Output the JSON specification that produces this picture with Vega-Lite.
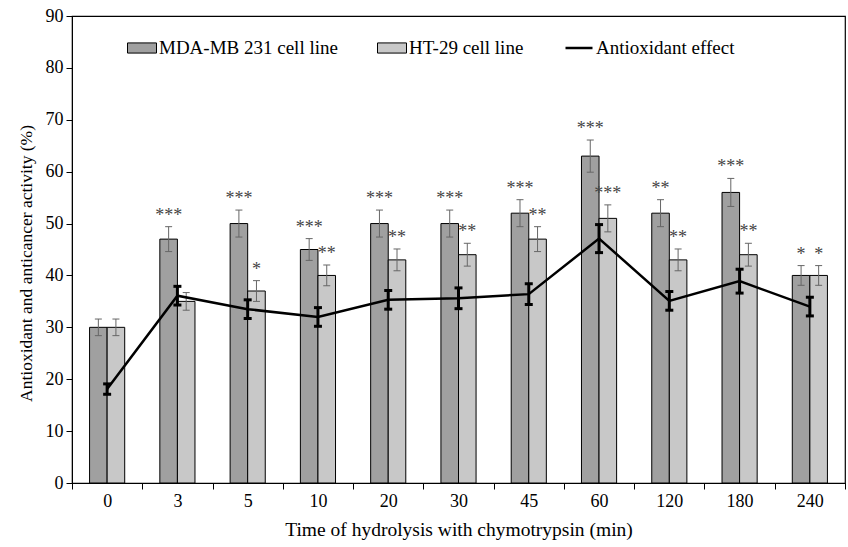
{
  "$schema": "https://vega.github.io/schema/vega-lite/v6.json",
  "width": 773,
  "height": 467,
  "autosize": {"type": "none"},
  "padding": {"left": 72, "top": 16, "right": 3, "bottom": 64},
  "background": "white",
  "config": {
    "font": "Liberation Serif",
    "view": {"stroke": "black", "strokeWidth": 1.2},
    "axis": {
      "labelFont": "Liberation Serif",
      "titleFont": "Liberation Serif",
      "labelFontSize": 18,
      "titleFontSize": 18,
      "titleFontWeight": "normal",
      "labelColor": "black",
      "titleColor": "black",
      "domainColor": "black",
      "tickColor": "black",
      "grid": false
    },
    "legend": {
      "labelFont": "Liberation Serif",
      "labelFontSize": 19,
      "labelColor": "black",
      "labelLimit": 400,
      "labelOffset": 2,
      "padding": 0
    }
  },
  "datasets": {
    "bars": [
      {"time": "0", "series": "MDA-MB 231 cell line", "value": 30, "lo": 28.4, "hi": 31.6, "sig": ""},
      {"time": "0", "series": "HT-29 cell line", "value": 30, "lo": 28.4, "hi": 31.6, "sig": ""},
      {"time": "3", "series": "MDA-MB 231 cell line", "value": 47, "lo": 44.6, "hi": 49.4, "sig": "***"},
      {"time": "3", "series": "HT-29 cell line", "value": 35, "lo": 33.3, "hi": 36.7, "sig": ""},
      {"time": "5", "series": "MDA-MB 231 cell line", "value": 50, "lo": 47.4, "hi": 52.6, "sig": "***"},
      {"time": "5", "series": "HT-29 cell line", "value": 37, "lo": 35, "hi": 39, "sig": "*"},
      {"time": "10", "series": "MDA-MB 231 cell line", "value": 45, "lo": 42.9, "hi": 47.1, "sig": "***"},
      {"time": "10", "series": "HT-29 cell line", "value": 40, "lo": 38, "hi": 42, "sig": "**"},
      {"time": "20", "series": "MDA-MB 231 cell line", "value": 50, "lo": 47.4, "hi": 52.6, "sig": "***"},
      {"time": "20", "series": "HT-29 cell line", "value": 43, "lo": 40.9, "hi": 45.1, "sig": "**"},
      {"time": "30", "series": "MDA-MB 231 cell line", "value": 50, "lo": 47.4, "hi": 52.6, "sig": "***"},
      {"time": "30", "series": "HT-29 cell line", "value": 44, "lo": 41.8, "hi": 46.2, "sig": "**"},
      {"time": "45", "series": "MDA-MB 231 cell line", "value": 52, "lo": 49.4, "hi": 54.6, "sig": "***"},
      {"time": "45", "series": "HT-29 cell line", "value": 47, "lo": 44.6, "hi": 49.4, "sig": "**"},
      {"time": "60", "series": "MDA-MB 231 cell line", "value": 63, "lo": 59.9, "hi": 66.1, "sig": "***"},
      {"time": "60", "series": "HT-29 cell line", "value": 51, "lo": 48.4, "hi": 53.6, "sig": "***"},
      {"time": "120", "series": "MDA-MB 231 cell line", "value": 52, "lo": 49.4, "hi": 54.6, "sig": "**"},
      {"time": "120", "series": "HT-29 cell line", "value": 43, "lo": 40.9, "hi": 45.1, "sig": "**"},
      {"time": "180", "series": "MDA-MB 231 cell line", "value": 56, "lo": 53.3, "hi": 58.7, "sig": "***"},
      {"time": "180", "series": "HT-29 cell line", "value": 44, "lo": 41.8, "hi": 46.2, "sig": "**"},
      {"time": "240", "series": "MDA-MB 231 cell line", "value": 40, "lo": 38.1, "hi": 41.9, "sig": "*"},
      {"time": "240", "series": "HT-29 cell line", "value": 40, "lo": 38.1, "hi": 41.9, "sig": "*"}
    ],
    "anti": [
      {"time": "0", "value": 18.1, "lo": 17.1, "hi": 19.1},
      {"time": "3", "value": 36.1, "lo": 34.3, "hi": 37.9},
      {"time": "5", "value": 33.5, "lo": 31.7, "hi": 35.3},
      {"time": "10", "value": 32.0, "lo": 30.2, "hi": 33.8},
      {"time": "20", "value": 35.3, "lo": 33.5, "hi": 37.1},
      {"time": "30", "value": 35.6, "lo": 33.6, "hi": 37.6},
      {"time": "45", "value": 36.4, "lo": 34.4, "hi": 38.4},
      {"time": "60", "value": 47.1, "lo": 44.4, "hi": 49.8},
      {"time": "120", "value": 35.1, "lo": 33.3, "hi": 36.9},
      {"time": "180", "value": 38.9, "lo": 36.6, "hi": 41.2},
      {"time": "240", "value": 34.0, "lo": 32.2, "hi": 35.8}
    ]
  },
  "encoding": {
    "x": {
      "field": "time",
      "type": "nominal",
      "sort": ["0", "3", "5", "10", "20", "30", "45", "60", "120", "180", "240"],
      "scale": {"paddingInner": 0, "paddingOuter": 0},
      "axis": {
        "title": "Time of hydrolysis with chymotrypsin (min)",
        "titleFontSize": 19.5,
        "labelAngle": 0,
        "tickBand": "extent",
        "tickSize": 6,
        "labelPadding": 3,
        "titlePadding": 10
      }
    }
  },
  "layer": [
    {
      "data": {"name": "bars"},
      "mark": {"type": "bar", "stroke": "black", "strokeWidth": 1},
      "encoding": {
        "xOffset": {
          "field": "series",
          "type": "nominal",
          "sort": ["MDA-MB 231 cell line", "HT-29 cell line"],
          "scale": {"paddingInner": 0, "paddingOuter": 1}
        },
        "y": {
          "field": "value",
          "type": "quantitative",
          "scale": {"domain": [0, 90], "nice": false},
          "axis": {
            "title": "Antioxidant and anticancer activity (%)",
            "titleFontSize": 17.5,
            "values": [0, 10, 20, 30, 40, 50, 60, 70, 80, 90],
            "tickSize": 6,
            "labelPadding": 3,
            "titlePadding": 10,
            "titleY": 247
          }
        },
        "fill": {
          "field": "series",
          "type": "nominal",
          "scale": {
            "domain": ["MDA-MB 231 cell line", "HT-29 cell line"],
            "range": ["#a0a0a0", "#c8c8c8"]
          },
          "legend": {
            "title": null,
            "orient": "none",
            "legendX": 55,
            "legendY": 17,
            "direction": "horizontal",
            "columnPadding": 37,
            "symbolSize": 841,
            "symbolType": "M-1,-0.35H1V0.35H-1Z",
            "symbolStrokeColor": "black",
            "symbolStrokeWidth": 1
          }
        }
      }
    },
    {
      "data": {"name": "bars"},
      "mark": {"type": "rule", "color": "#666666", "strokeWidth": 1},
      "encoding": {
        "xOffset": {"field": "series", "type": "nominal", "sort": ["MDA-MB 231 cell line", "HT-29 cell line"]},
        "y": {"field": "lo", "type": "quantitative"},
        "y2": {"field": "hi"}
      }
    },
    {
      "data": {"name": "bars"},
      "mark": {"type": "tick", "orient": "horizontal", "size": 7, "thickness": 1, "color": "#666666", "opacity": 1},
      "encoding": {
        "xOffset": {"field": "series", "type": "nominal", "sort": ["MDA-MB 231 cell line", "HT-29 cell line"]},
        "y": {"field": "hi", "type": "quantitative"}
      }
    },
    {
      "data": {"name": "bars"},
      "mark": {"type": "tick", "orient": "horizontal", "size": 7, "thickness": 1, "color": "#666666", "opacity": 1},
      "encoding": {
        "xOffset": {"field": "series", "type": "nominal", "sort": ["MDA-MB 231 cell line", "HT-29 cell line"]},
        "y": {"field": "lo", "type": "quantitative"}
      }
    },
    {
      "data": {"name": "bars"},
      "mark": {"type": "text", "font": "Liberation Serif", "fontSize": 18, "color": "#444444", "baseline": "alphabetic", "dy": -6},
      "encoding": {
        "xOffset": {"field": "series", "type": "nominal", "sort": ["MDA-MB 231 cell line", "HT-29 cell line"]},
        "y": {"field": "hi", "type": "quantitative"},
        "text": {"field": "sig"}
      }
    },
    {
      "data": {"name": "anti"},
      "mark": {"type": "line", "strokeWidth": 2.5},
      "encoding": {
        "y": {"field": "value", "type": "quantitative"},
        "stroke": {
          "datum": "Antioxidant effect",
          "scale": {"domain": ["Antioxidant effect"], "range": ["black"]},
          "legend": {
            "title": null,
            "orient": "none",
            "legendX": 492,
            "legendY": 17,
            "symbolType": "stroke",
            "symbolSize": 729,
            "symbolStrokeWidth": 2.5
          }
        }
      }
    },
    {
      "data": {"name": "anti"},
      "mark": {"type": "rule", "color": "black", "strokeWidth": 3},
      "encoding": {
        "y": {"field": "lo", "type": "quantitative"},
        "y2": {"field": "hi"}
      }
    },
    {
      "data": {"name": "anti"},
      "mark": {"type": "tick", "orient": "horizontal", "size": 8, "thickness": 3, "color": "black", "opacity": 1},
      "encoding": {
        "y": {"field": "hi", "type": "quantitative"}
      }
    },
    {
      "data": {"name": "anti"},
      "mark": {"type": "tick", "orient": "horizontal", "size": 8, "thickness": 3, "color": "black", "opacity": 1},
      "encoding": {
        "y": {"field": "lo", "type": "quantitative"}
      }
    }
  ]
}
